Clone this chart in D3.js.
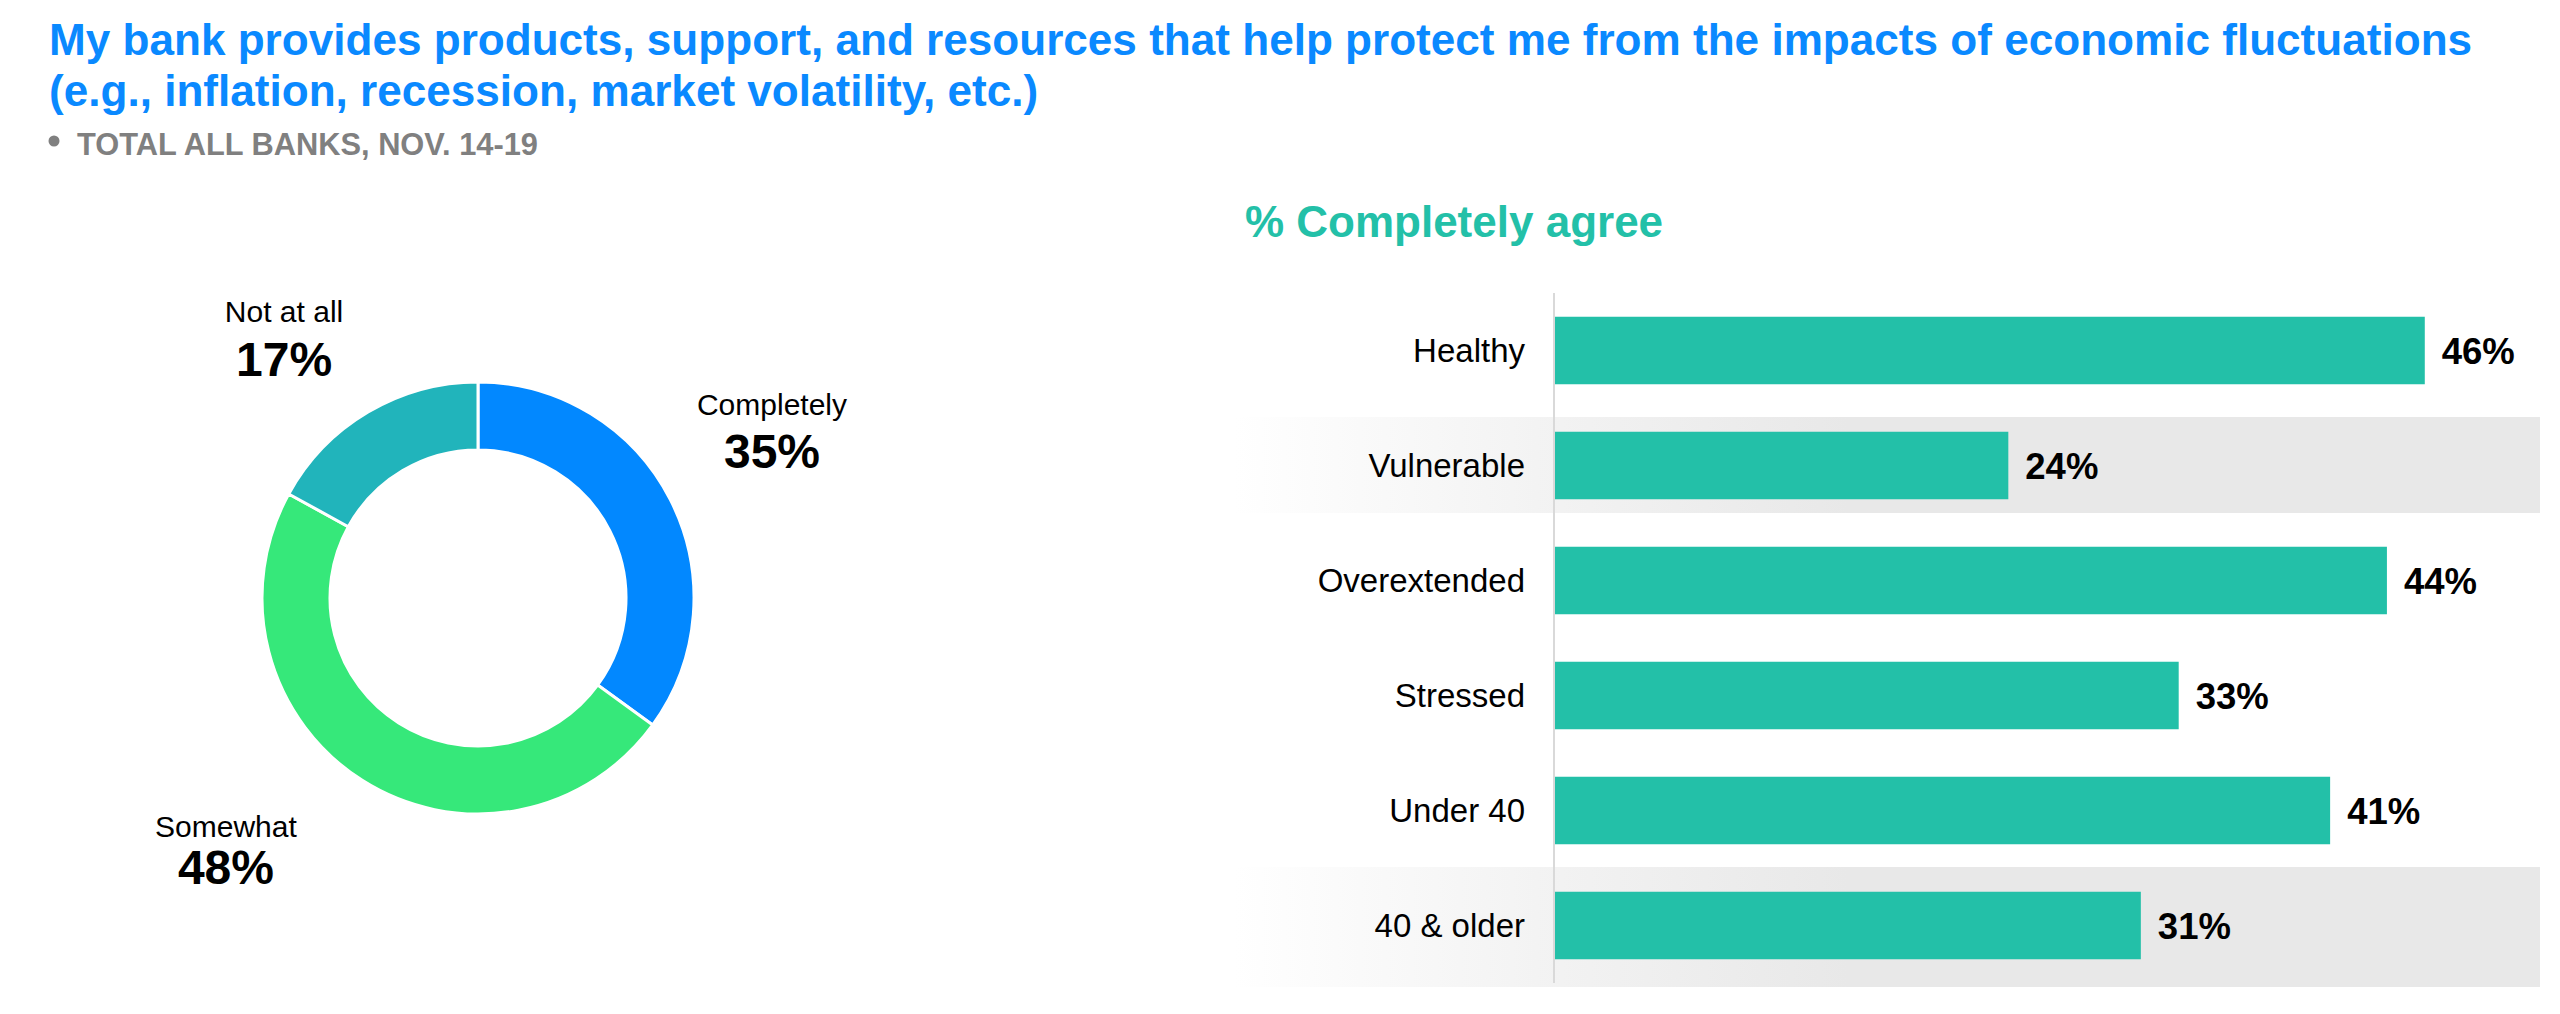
<!DOCTYPE html>
<html>
<head>
<meta charset="utf-8">
<script src="https://cdn.jsdelivr.net/npm/d3@7/dist/d3.min.js"></script>
<style>
  html, body { margin: 0; padding: 0; background: #ffffff; }
  svg { display: block; font-family: "Liberation Sans", Arial, Helvetica, sans-serif; }
</style>
</head>
<body>
<svg id="chart" width="2560" height="1014"></svg>
<script>
// ---------- DATA ----------
const titleLines = [
  "My bank provides products, support, and resources that help protect me from the impacts of economic fluctuations",
  "(e.g., inflation, recession, market volatility, etc.)"
];
const subtitle = "TOTAL ALL BANKS, NOV. 14-19";

const donutCategories = ["Completely", "Somewhat", "Not at all"];
const donutValues = [35, 48, 17];

const barTitle = "% Completely agree";
const barCategories = ["Healthy", "Vulnerable", "Overextended", "Stressed", "Under 40", "40 & older"];
const barValues = [46, 24, 44, 33, 41, 31];
const shadedRows = ["Vulnerable", "40 & older"];

// ---------- LAYOUT / STYLE ----------
const colors = {
  title: "#0A89FF",
  subtitle: "#808080",
  donut: { "Completely": "#0288FF", "Somewhat": "#36E87A", "Not at all": "#21B4BB" },
  bar: "#23C0A8",
  barTitle: "#23C0A8",
  axis: "#D9D9D9",
  text: "#000000"
};
const donut = { cx: 478, cy: 598, outer: 216, inner: 148 };
// label anchors relative to donut centre, in units of outer radius
const donutLabelLayout = {
  "Completely": { dx: 1.361, dy: -0.847, gap: 53 },
  "Somewhat":   { dx: -1.167, dy: 1.106, gap: 47 },
  "Not at all": { dx: -0.898, dy: -1.278, gap: 54 }
};
const bars = { axisX: 1554, top: 293, bottom: 983, labelGap: 29, valueGap: 17 };
const shadeInset = { "Vulnerable": [9, 10], "40 & older": [-1, -4] };

const svg = d3.select("#chart");

// ---------- TITLE ----------
svg.selectAll("text.title")
  .data(titleLines)
  .join("text")
  .attr("class", "title")
  .attr("x", 49)
  .attr("y", (d, i) => 55 + i * 51)
  .attr("fill", colors.title)
  .attr("font-size", 44.1)
  .attr("font-weight", "bold")
  .text(d => d);

svg.append("circle")
  .attr("cx", 54).attr("cy", 141).attr("r", 5.5)
  .attr("fill", colors.subtitle);
svg.append("text")
  .attr("x", 77).attr("y", 155)
  .attr("fill", colors.subtitle)
  .attr("font-size", 30.8)
  .attr("font-weight", "bold")
  .text(subtitle);

// ---------- DONUT ----------
const donutData = donutCategories.map((c, i) => ({ cat: c, value: donutValues[i] }));
const pie = d3.pie().sort(null).value(d => d.value);
const arc = d3.arc().innerRadius(donut.inner).outerRadius(donut.outer);
const gD = svg.append("g").attr("transform", `translate(${donut.cx},${donut.cy})`);
gD.selectAll("path")
  .data(pie(donutData))
  .join("path")
  .attr("d", arc)
  .attr("fill", d => colors.donut[d.data.cat])
  .attr("stroke", "#ffffff")
  .attr("stroke-width", 3);

const lbl = gD.selectAll("g.lbl")
  .data(pie(donutData))
  .join("g")
  .attr("class", "lbl")
  .attr("transform", d => {
    const L = donutLabelLayout[d.data.cat];
    return `translate(${L.dx * donut.outer},${L.dy * donut.outer})`;
  });
lbl.append("text")
  .attr("text-anchor", "middle")
  .attr("font-size", 30)
  .attr("fill", colors.text)
  .text(d => d.data.cat);
lbl.append("text")
  .attr("text-anchor", "middle")
  .attr("y", d => donutLabelLayout[d.data.cat].gap)
  .attr("font-size", 48)
  .attr("font-weight", "bold")
  .attr("fill", colors.text)
  .text(d => d.data.value + "%");

// ---------- BAR CHART ----------
const x = d3.scaleLinear().domain([0, 50]).range([bars.axisX, bars.axisX + 946.5]);
const y = d3.scaleBand().domain(barCategories).range([bars.top, bars.bottom])
  .paddingInner(0.413).paddingOuter(0.2065);
const row = d3.scaleBand().domain(barCategories).range([bars.top, bars.bottom]).padding(0);

const defs = svg.append("defs");
const grad = defs.append("linearGradient")
  .attr("id", "shadeGrad")
  .attr("gradientUnits", "userSpaceOnUse")
  .attr("x1", 1235).attr("x2", 2540).attr("y1", 0).attr("y2", 0);
grad.append("stop").attr("offset", "0").attr("stop-color", "#ffffff");
grad.append("stop").attr("offset", "0.25").attr("stop-color", "#f2f2f2");
grad.append("stop").attr("offset", "0.47").attr("stop-color", "#e8e8e8");
grad.append("stop").attr("offset", "1").attr("stop-color", "#e8e8e8");

svg.selectAll("rect.shade")
  .data(shadedRows)
  .join("rect")
  .attr("class", "shade")
  .attr("x", 1235)
  .attr("width", 2540 - 1235)
  .attr("y", d => row(d) + shadeInset[d][0])
  .attr("height", d => row.bandwidth() - shadeInset[d][0] - shadeInset[d][1])
  .attr("fill", "url(#shadeGrad)");

svg.append("text")
  .attr("x", 1454).attr("y", 237)
  .attr("text-anchor", "middle")
  .attr("font-size", 44)
  .attr("font-weight", "bold")
  .attr("fill", colors.barTitle)
  .text(barTitle);

const barData = barCategories.map((c, i) => ({ cat: c, value: barValues[i] }));

svg.selectAll("rect.bar")
  .data(barData)
  .join("rect")
  .attr("class", "bar")
  .attr("x", x(0))
  .attr("y", d => y(d.cat))
  .attr("width", d => x(d.value) - x(0))
  .attr("height", y.bandwidth())
  .attr("fill", colors.bar);

svg.append("line")
  .attr("x1", bars.axisX).attr("x2", bars.axisX)
  .attr("y1", bars.top).attr("y2", bars.bottom)
  .attr("stroke", colors.axis).attr("stroke-width", 2);

svg.selectAll("text.cat")
  .data(barData)
  .join("text")
  .attr("class", "cat")
  .attr("x", bars.axisX - bars.labelGap)
  .attr("y", d => y(d.cat) + y.bandwidth() / 2)
  .attr("dy", "0.36em")
  .attr("text-anchor", "end")
  .attr("font-size", 33)
  .attr("fill", colors.text)
  .text(d => d.cat);

svg.selectAll("text.val")
  .data(barData)
  .join("text")
  .attr("class", "val")
  .attr("x", d => x(d.value) + bars.valueGap)
  .attr("y", d => y(d.cat) + y.bandwidth() / 2)
  .attr("dy", "0.36em")
  .attr("font-size", 36.5)
  .attr("font-weight", "bold")
  .attr("fill", colors.text)
  .text(d => d.value + "%");
</script>
</body>
</html>
